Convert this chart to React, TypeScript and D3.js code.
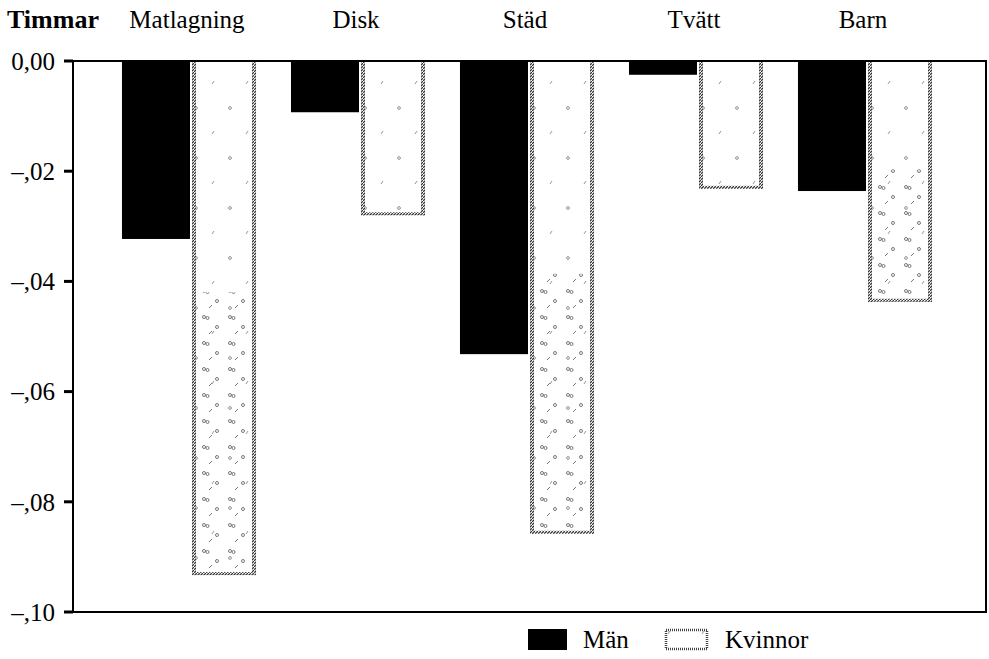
import React from "react";
import * as d3 from "d3";

const categories = ["Matlagning", "Disk", "Städ", "Tvätt", "Barn"];
const series = ["Män", "Kvinnor"];
const manValues = [-0.0323, -0.0093, -0.0532, -0.0025, -0.0236];
const kvinnorValues = [-0.0933, -0.028, -0.0858, -0.0232, -0.0437];
const yTicks = [0, -0.02, -0.04, -0.06, -0.08, -0.1];
const yTickLabels = ["0,00", "–,02", "–,04", "–,06", "–,08", "–,10"];

const W = 989;
const H = 659;
const left = 73;
const right = 986;
const top = 61;
const bottom = 612;
const FONT = "Liberation Serif";

export default function App() {
  const x0 = d3
    .scaleBand<string>()
    .domain(categories)
    .range([105.5, 950.5])
    .paddingInner(0.195)
    .paddingOuter(0.0975);
  const x1 = d3.scaleBand<string>().domain(series).range([0, x0.bandwidth()]).padding(0);
  const y = d3.scaleLinear().domain([0, -0.1]).range([top, bottom]);

  const data = categories.map((c, i) => ({ c, vals: [manValues[i], kvinnorValues[i]] }));
  const txt = { fontFamily: FONT, fontSize: "25px" } as React.CSSProperties;

  return (
    <svg width={W} height={H} style={{ position: "absolute", left: 0, top: 0, background: "#fff" }}>
      <defs>
        <pattern id="spk" width="34" height="50" patternUnits="userSpaceOnUse">
          <rect width="34" height="50" fill="#fff" />
          <circle cx="6" cy="8" r="1.4" fill="none" stroke="#777" strokeWidth="0.8" />
          <path d="M22,34 l2,-3" stroke="#777" strokeWidth="0.8" />
        </pattern>
        <pattern id="dense" width="26" height="26" patternUnits="userSpaceOnUse">
          <circle cx="4" cy="5" r="1.5" fill="none" stroke="#666" strokeWidth="0.9" />
          <circle cx="7.5" cy="6" r="1.5" fill="none" stroke="#666" strokeWidth="0.9" />
          <circle cx="17" cy="15" r="1.5" fill="none" stroke="#666" strokeWidth="0.9" />
          <path d="M9,22 l3,-3" stroke="#666" strokeWidth="0.9" />
        </pattern>
        <pattern id="edge" width="3" height="3" patternUnits="userSpaceOnUse">
          <rect width="3" height="3" fill="#fff" />
          <path d="M0,3 L3,0" stroke="#333" strokeWidth="1.3" />
        </pattern>
      </defs>
      <text x={7} y={28} style={{ ...txt, fontSize: "26px", fontWeight: "bold" }} fill="#000">
        Timmar
      </text>
      {categories.map((c) => (
        <text
          key={c}
          x={(x0(c) as number) + x0.bandwidth() / 2 - 3}
          y={28}
          style={txt}
          textAnchor="middle"
          fill="#000"
        >
          {c}
        </text>
      ))}
      {data.map((d) => (
        <g key={d.c} transform={`translate(${x0(d.c)},0)`}>
          {d.vals.map((v, j) => {
            const bx = x1(series[j]) as number;
            const bw = x1.bandwidth();
            const h = y(v) - y(0);
            if (j === 0) {
              return <rect key={j} x={bx} y={y(0)} width={bw} height={h} fill="#000" />;
            }
            return (
              <g key={j}>
                <rect x={bx} y={y(0)} width={bw} height={h} fill="url(#spk)" />
                {h > 200 && (
                  <rect x={bx + 5} y={y(0) + h * 0.45} width={bw - 10} height={h * 0.55} fill="url(#dense)" />
                )}
                <rect x={bx + 2} y={y(0)} width={4} height={h} fill="url(#edge)" />
                <rect x={bx + bw - 6} y={y(0)} width={4} height={h} fill="url(#edge)" />
                <rect x={bx + 2} y={y(v) - 3} width={bw - 4} height={3} fill="url(#edge)" />
              </g>
            );
          })}
        </g>
      ))}
      <rect x={left} y={top} width={right - left} height={bottom - top} fill="none" stroke="#000" strokeWidth={2} />
      {yTicks.map((t, i) => (
        <g key={t}>
          <line x1={left - 9} x2={left} y1={y(t)} y2={y(t)} stroke="#000" strokeWidth={3} />
          <text x={55} y={y(t)} dy="0.35em" textAnchor="end" style={txt} fill="#000">
            {yTickLabels[i]}
          </text>
        </g>
      ))}
      <g>
        <rect x={528} y={629} width={39} height={21} fill="#000" />
        <text x={583} y={648} style={txt} fill="#000">
          {series[0]}
        </text>
        <rect x={666} y={630} width={41} height={19} fill="url(#spk)" stroke="#444" strokeWidth={2.5} strokeDasharray="1 1" />
        <text x={725} y={648} style={txt} fill="#000">
          {series[1]}
        </text>
      </g>
    </svg>
  );
}
